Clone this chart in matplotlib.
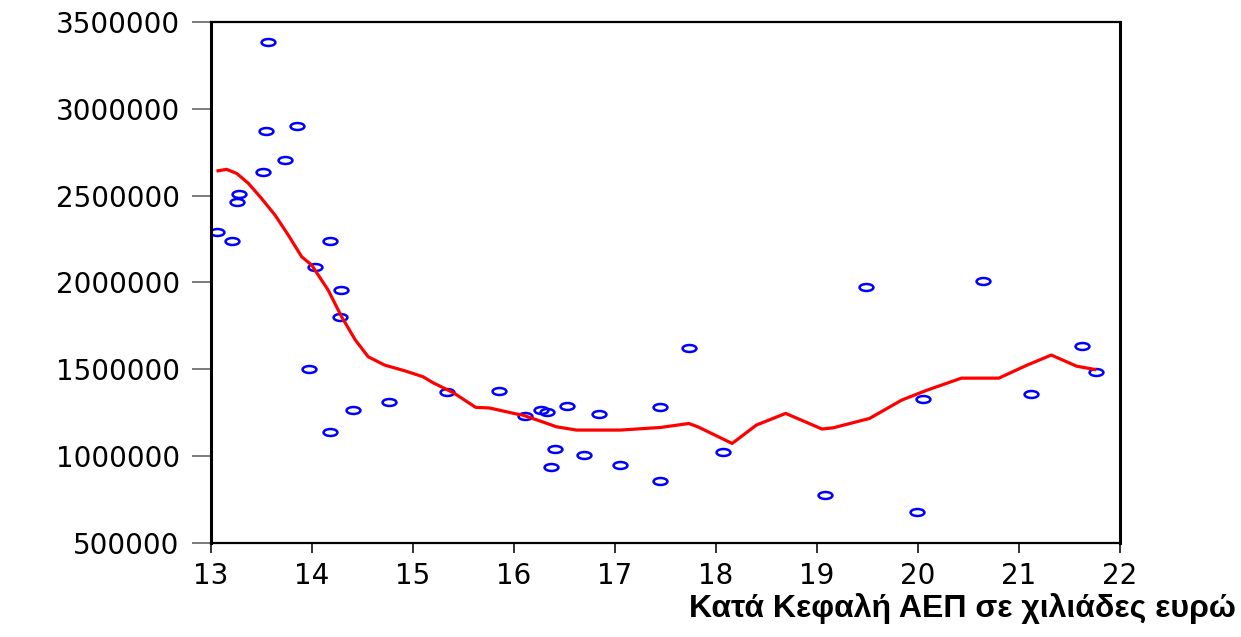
import matplotlib

matplotlib.use("Agg")

import matplotlib.pyplot as plt
from matplotlib.path import Path
from matplotlib.transforms import Affine2D

# Точки наблюдений: ВВП на душу (тыс. евро) и значение по оси Y
gdp_per_capita = [13.06, 13.21, 13.26, 13.28, 13.52, 13.54, 13.56, 13.73,
                  13.85, 13.97, 14.03, 14.18, 14.18, 14.28, 14.29, 14.41,
                  14.76, 15.34, 15.85, 16.11, 16.27, 16.33, 16.37, 16.41,
                  16.52, 16.69, 16.84, 17.05, 17.45, 17.45, 17.73, 18.07,
                  19.08, 19.49, 19.99, 20.05, 20.64, 21.12, 21.62, 21.76]
values = [2292000, 2237000, 2465000, 2508000, 2638000, 2874000, 3387000,
          2703000, 2901000, 1501000, 2091000, 2239000, 1138000, 1801000,
          1958000, 1265000, 1313000, 1367000, 1373000, 1229000, 1265000,
          1253000, 937000, 1042000, 1290000, 1008000, 1240000, 950000,
          1282000, 856000, 1622000, 1023000, 774000, 1974000, 681000,
          1327000, 2008000, 1355000, 1634000, 1486000]

# Сглаженная кривая
fit_x = [13.07, 13.155, 13.254, 13.37, 13.50, 13.634, 13.765, 13.898,
         13.997, 14.16, 14.294, 14.43, 14.557, 14.72, 14.92, 15.10, 15.20,
         15.40, 15.62, 15.76, 16.03, 16.09, 16.26, 16.42, 16.62, 17.05,
         17.45, 17.73, 17.82, 18.16, 18.40, 18.69, 19.05, 19.16, 19.52,
         19.84, 20.09, 20.43, 20.80, 21.08, 21.32, 21.57, 21.75]
fit_y = [2643000, 2651000, 2628000, 2571000, 2484000, 2388000, 2273000,
         2148000, 2100000, 1956000, 1802000, 1668000, 1572000, 1524000,
         1491000, 1457000, 1422000, 1365000, 1281000, 1277000, 1242000,
         1236000, 1202000, 1169000, 1150000, 1150000, 1165000, 1188000,
         1169000, 1073000, 1179000, 1246000, 1156000, 1163000, 1217000,
         1323000, 1380000, 1449000, 1449000, 1524000, 1582000, 1518000,
         1499000]

x_ticks = [13, 14, 15, 16, 17, 18, 19, 20, 21, 22]
y_ticks = [500000, 1000000, 1500000, 2000000, 2500000, 3000000, 3500000]
x_label = "Κατά Κεφαλή ΑΕΠ σε χιλιάδες ευρώ"


def ellipse_marker():
    # Сплюснутый кружок, как в исходном графике
    circle = Path.unit_circle()
    return circle.transformed(Affine2D().scale(1.0, 0.5))


def main():
    fig = plt.figure(figsize=(12.41, 6.37), dpi=100)
    ax = fig.add_axes([0.170, 0.1476, 0.7325, 0.818])

    ax.plot(gdp_per_capita, values, linestyle="none",
            marker=ellipse_marker(), markersize=10,
            markerfacecolor="none", markeredgecolor="#0000ff",
            markeredgewidth=1.8)
    ax.plot(fit_x, fit_y, color="#ff0000", linewidth=2.3)

    ax.set_xlim(13, 22)
    ax.set_ylim(500000, 3500000)
    ax.set_xticks(x_ticks)
    ax.set_yticks(y_ticks)
    ax.set_xticklabels([str(t) for t in x_ticks])
    ax.set_yticklabels([str(t) for t in y_ticks])

    for label in ax.get_xticklabels() + ax.get_yticklabels():
        label.set_family("DejaVu Sans")
        label.set_fontsize(20)

    ax.tick_params(axis="y", direction="out", length=13.5, width=1.2,
                   color="#666666", pad=9)
    ax.tick_params(axis="x", direction="out", length=7, width=1.3,
                   color="#222222", pad=7)

    ax.spines["left"].set_linewidth(2.2)
    ax.spines["right"].set_linewidth(2.2)
    ax.spines["top"].set_linewidth(1.6)
    ax.spines["bottom"].set_linewidth(1.6)

    fig.text(1236 / 1241, (637 - 617) / 637, x_label,
             family=["Liberation Sans", "DejaVu Sans"],
             fontsize=23, fontweight="bold",
             ha="right", va="baseline")

    fig.savefig("out.png", dpi=100)
    plt.close(fig)


if __name__ == "__main__":
    main()
